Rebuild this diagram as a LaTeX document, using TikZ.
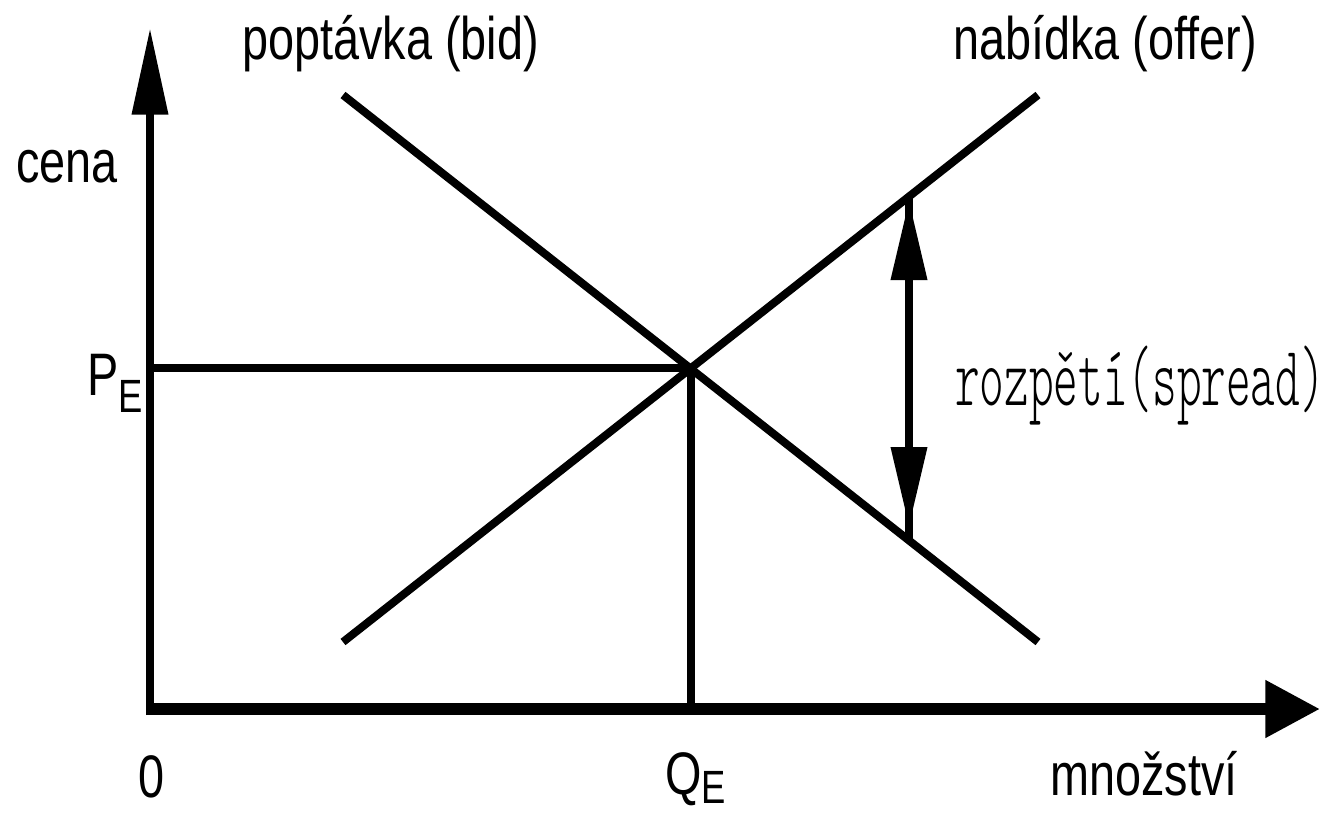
\documentclass[tikz,border=0pt]{standalone}
\usepackage{fontspec}
\usetikzlibrary{arrows.meta}
\newfontfamily\sfcond[FakeStretch=0.78]{Liberation Sans}
\newfontfamily\monocond[FakeStretch=0.55]{Latin Modern Mono Light}
\tikzset{
  lbl/.style={inner sep=0pt, anchor=base west, font=\sfcond\fontsize{45}{50}\selectfont},
  monolbl/.style={inner sep=0pt, anchor=base west, font=\monocond\fontsize{64}{70}\selectfont},
  curve/.style={line width=6pt},
  thinaxis/.style={line width=6pt},
  yaxis/.style={line width=6pt, -{Triangle[length=65pt,width=26pt]}},
  xaxis/.style={line width=9pt, -{Triangle[length=41pt,width=41pt]}},
  spreadarr/.style={line width=6pt, {Triangle[length=60pt,width=26pt]}-{Triangle[length=60pt,width=26pt]}},
}
\begin{document}
\begin{tikzpicture}[x=0.75pt,y=-0.75pt]
\useasboundingbox (0,0) rectangle (1326,813);
% coordinates
\coordinate (Ytip) at (150,28);
\coordinate (Xtip) at (1320,709);
\coordinate (Obot) at (150,715);
\coordinate (Xstart) at (146,709);
\coordinate (Dtop) at (343,95);
\coordinate (Dbot) at (1038,642);
\coordinate (Sbot) at (343,642);
\coordinate (Stop) at (1038,95);
\coordinate (E) at (691,368);
\coordinate (PEy) at (150,368);
\coordinate (QEx) at (691,709);
\coordinate (SpTop) at (909,200);
\coordinate (SpBot) at (909,527);
\coordinate (SpLineTop) at (909,197);
\coordinate (SpLineBot) at (909,540);
% axes
\draw[yaxis] (Obot) -- (Ytip);
\draw[xaxis] (Xstart) -- (Xtip);
% curves
\draw[curve] (Dtop) -- (Dbot);
\draw[curve] (Sbot) -- (Stop);
% equilibrium
\draw[thinaxis] (PEy) -- (E) -- (QEx);
% spread
\draw[curve] (SpLineTop) -- (SpLineBot);
\draw[spreadarr] (SpTop) -- (SpBot);
% labels
\node[lbl] (cena) at (16,182) {cena};
\node[lbl] (bid) at (242,60) {poptávka (bid)};
\node[lbl] (offer) at (953,60) {nabídka (offer)};
\node[lbl] (pe) at (87,395) {P\raisebox{-12.75pt}{\fontsize{35}{40}\selectfont E}};
\node[lbl] (qe) at (665,794) {Q\raisebox{-7pt}{\fontsize{35}{40}\selectfont E}};
\node[lbl] (zero) at (138,797) {0};
\node[lbl] (mnoz) at (1050,795) {množství};
\node[monolbl] (spread) at (955,405) {rozpětí(spread)};
\end{tikzpicture}
\end{document}
